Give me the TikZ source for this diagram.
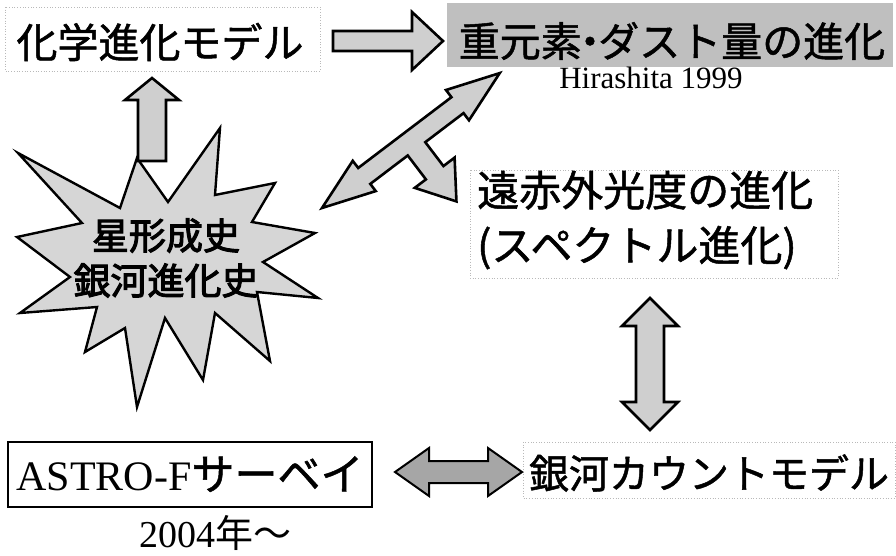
\documentclass[tikz,border=0pt]{standalone}
\usepackage{fontspec}
\setmainfont{Liberation Serif}
\newfontfamily\jp[FakeBold=1.2]{Noto Sans CJK JP}
\newfontfamily\jpn{Noto Sans CJK JP}
\newfontfamily\jpb[FakeBold=2.8]{Noto Sans CJK JP}
\begin{document}
\begin{tikzpicture}[x=1pt,y=-1pt,
  blockarrow/.style={draw=black, line width=2.6pt, fill=gray!38, line join=miter},
  darkarrow/.style={draw=black, line width=2pt, fill=gray!70, line join=miter},
  starburst/.style={draw=black, line width=2.4pt, fill=gray!32, line join=miter},
  faintbox/.style={draw=gray!55, dotted, line width=0.7pt},
  jptext/.style={inner sep=0pt, text=black}
]
\useasboundingbox (0,0) rectangle (896,555);
\fill[white] (0,0) rectangle (896,555);

% faint text-box borders
\draw[faintbox] (5,7) rectangle (320,71);
\draw[faintbox] (470,170) rectangle (838,278);
\draw[faintbox] (523,442) rectangle (895,498);

% top-left text
\node[jptext, font=\jp\fontsize{41}{41}\selectfont] (chem) at (160,42) {化学進化モデル};

% top-right gray box with text
\fill[gray!50] (447,3) rectangle (893,67);
\node[jptext, font=\jp\fontsize{41}{41}\selectfont] (dust) at (672,41) {重元素\kern-0.3em・\kern-0.3emダスト量の進化};
\node[jptext, anchor=base, font=\fontsize{31}{31}\selectfont] (hira) at (651,88) {Hirashita 1999};

% right arrow
\draw[blockarrow] (333,31) -- (412,31) -- (412,12) -- (443,41) -- (412,70) -- (412,51) -- (333,51) -- cycle;

% starburst
\draw[starburst] (18,153) -- (120,208) -- (137,158) -- (168,202) -- (220,128) -- (215,195)
  -- (275,183) -- (252,222) -- (315,233) -- (263,262) -- (318,298) -- (257,292)
  -- (270,361) -- (215,313) -- (203,380) -- (165,318) -- (137,407) -- (125,328)
  -- (85,352) -- (97,307) -- (20,313) -- (70,277) -- (17,237) -- (82,223) -- cycle;
\node[jptext, align=center, font=\jpb\fontsize{37}{45}\selectfont] (star) at (166,258) {星形成史\\銀河進化史};

% up arrow
\draw[blockarrow] (138,161) -- (138,100) -- (125,100) -- (152,78) -- (179,100) -- (166,100) -- (166,161) -- cycle;

% diagonal double arrow with branch
\begin{scope}[shift={(322,208)}, x={(0.797pt,0.605pt)}, y={(0.605pt,-0.797pt)}]
\draw[blockarrow] (0,0) -- (53,-19) -- (53,-10) -- (170,-10) -- (170,-19) -- (223,0)
  -- (170,19) -- (170,10) -- (122,10) -- (122,40) -- (136,40) -- (111,76)
  -- (86,40) -- (100,40) -- (100,10) -- (53,10) -- (53,19) -- cycle;
\end{scope}

% far-infrared text
\node[jptext, anchor=west, align=left, font=\jp\fontsize{42}{55}\selectfont] (far) at (477,220) {遠赤外光度の進化\\(スペクトル進化)};

% vertical double arrow
\draw[blockarrow] (636,326) -- (622,326) -- (650,298) -- (678,326) -- (664,326) -- (664,402)
  -- (678,402) -- (650,430) -- (622,402) -- (636,402) -- cycle;

% ASTRO-F box
\draw[line width=2pt] (8,442) rectangle (372,507);
\node[jptext, anchor=base] (astro) at (190,490) {\fontsize{42}{42}\selectfont ASTRO-F\jp\fontsize{43}{43}\selectfont サーベイ};
\node[jptext, anchor=base, font=\fontsize{38}{38}\selectfont] (year) at (215,547) {2004\jpn 年～};

% bottom double arrow
\draw[darkarrow] (395,472) -- (429,448) -- (429,461) -- (488,461) -- (488,448) -- (522,472)
  -- (488,496) -- (488,483) -- (429,483) -- (429,496) -- cycle;

% galaxy count model
\node[jptext, font=\jp\fontsize{40}{40}\selectfont] (count) at (709,473) {銀河カウントモデル};
\end{tikzpicture}
\end{document}
